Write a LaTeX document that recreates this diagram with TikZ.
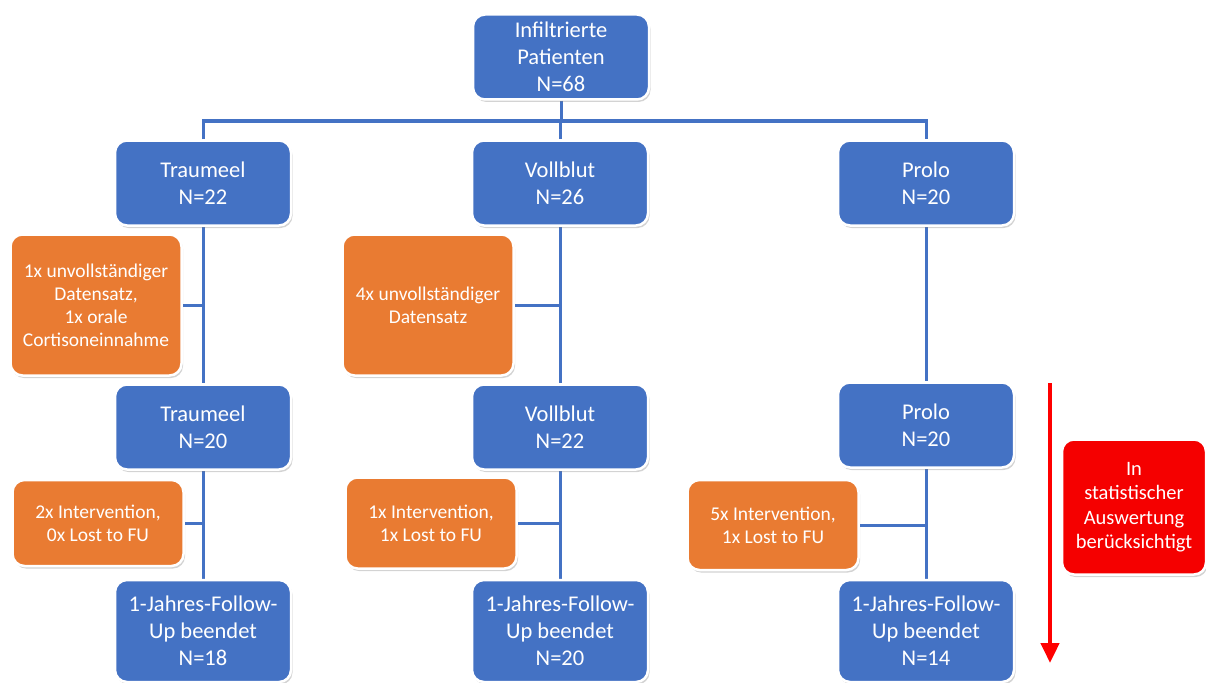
\documentclass[tikz,border=0pt]{standalone}
\usepackage{fontspec}
\setmainfont{Carlito}
\usetikzlibrary{shadows,backgrounds,arrows.meta}
\definecolor{boxblue}{HTML}{4472C4}
\definecolor{boxorange}{HTML}{E97B32}
\definecolor{boxred}{HTML}{F50000}
\tikzset{
  basebox/.style={rounded corners=12pt, draw=white, line width=2.5pt, text=white, align=center, inner sep=0pt,
    drop shadow={opacity=0.35, shadow xshift=1.5pt, shadow yshift=-2.5pt}},
  bluebox/.style={basebox, fill=boxblue, minimum width=176pt, minimum height=85pt, font=\fontsize{22.5}{27}\selectfont},
  finalbox/.style={bluebox, minimum height=102pt},
  orangebox/.style={basebox, fill=boxorange, minimum width=171pt, font=\fontsize{19.5}{23}\selectfont},
  redbox/.style={basebox, fill=boxred, minimum width=144pt, minimum height=135pt, font=\fontsize{20.5}{24.5}\selectfont},
  conn/.style={draw=boxblue, line width=3pt},
}
\begin{document}
\begin{tikzpicture}[x=1pt,y=-1pt]
\useasboundingbox (0,0) rectangle (1206,682);
% blue boxes
\node[bluebox] (top) at (561,57) {Infiltrierte\\Patienten\\N=68};
\node[bluebox] (t1) at (203,183) {Traumeel\\N=22};
\node[bluebox] (v1) at (560,183) {Vollblut\\N=26};
\node[bluebox] (p1) at (926,183) {Prolo\\N=20};
\node[bluebox] (t2) at (203,427) {Traumeel\\N=20};
\node[bluebox] (v2) at (560,427) {Vollblut\\N=22};
\node[bluebox] (p2) at (926,425) {Prolo\\N=20};
\node[finalbox] (t3) at (203,631) {1-Jahres-Follow-\\Up beendet\\N=18};
\node[finalbox] (v3) at (560,631) {1-Jahres-Follow-\\Up beendet\\N=20};
\node[finalbox] (p3) at (926,631) {1-Jahres-Follow-\\Up beendet\\N=14};
% orange boxes
\node[orangebox, minimum height=141pt] (o1) at (96,305) {1x unvollständiger\\Datensatz,\\1x orale\\Cortisoneinnahme};
\node[orangebox, minimum height=141pt] (o2) at (428,305) {4x unvollständiger\\Datensatz};
\node[orangebox, minimum height=86pt] (o3) at (98,523) {2x Intervention,\\0x Lost to FU};
\node[orangebox, minimum height=91pt] (o4) at (431,523) {1x Intervention,\\1x Lost to FU};
\node[orangebox, minimum height=90pt] (o5) at (773,525) {5x Intervention,\\1x Lost to FU};
% red box
\node[redbox] (rb) at (1134,507) {In\\statistischer\\Auswertung\\berücksichtigt};
\coordinate (bus) at (561,121);
\coordinate (arrS) at (1050,383);
\coordinate (arrE) at (1050,663);
\draw[draw=red, line width=4.5pt, -{Triangle[length=20pt,width=18pt]}] (arrS) -- (arrE);
% connectors
\begin{scope}[on background layer]
\draw[conn] (top.south) -- (bus);
\draw[conn] (t1.north) -- (t1.north |- bus) -- (p1.north |- bus) -- (p1.north);
\draw[conn] (v1.north) -- (v1.north |- bus);
\draw[conn] (t1.south) -- (t2.north);
\draw[conn] (v1.south) -- (v2.north);
\draw[conn] (p1.south) -- (p2.north);
\draw[conn] (t2.south) -- (t3.north);
\draw[conn] (v2.south) -- (v3.north);
\draw[conn] (p2.south) -- (p3.north);
\draw[conn] (o1.east) -- (o1.east -| t1.south);
\draw[conn] (o2.east) -- (o2.east -| v1.south);
\draw[conn] (o3.east) -- (o3.east -| t2.south);
\draw[conn] (o4.east) -- (o4.east -| v2.south);
\draw[conn] (o5.east) -- (o5.east -| p2.south);
\end{scope}
\end{tikzpicture}
\end{document}
